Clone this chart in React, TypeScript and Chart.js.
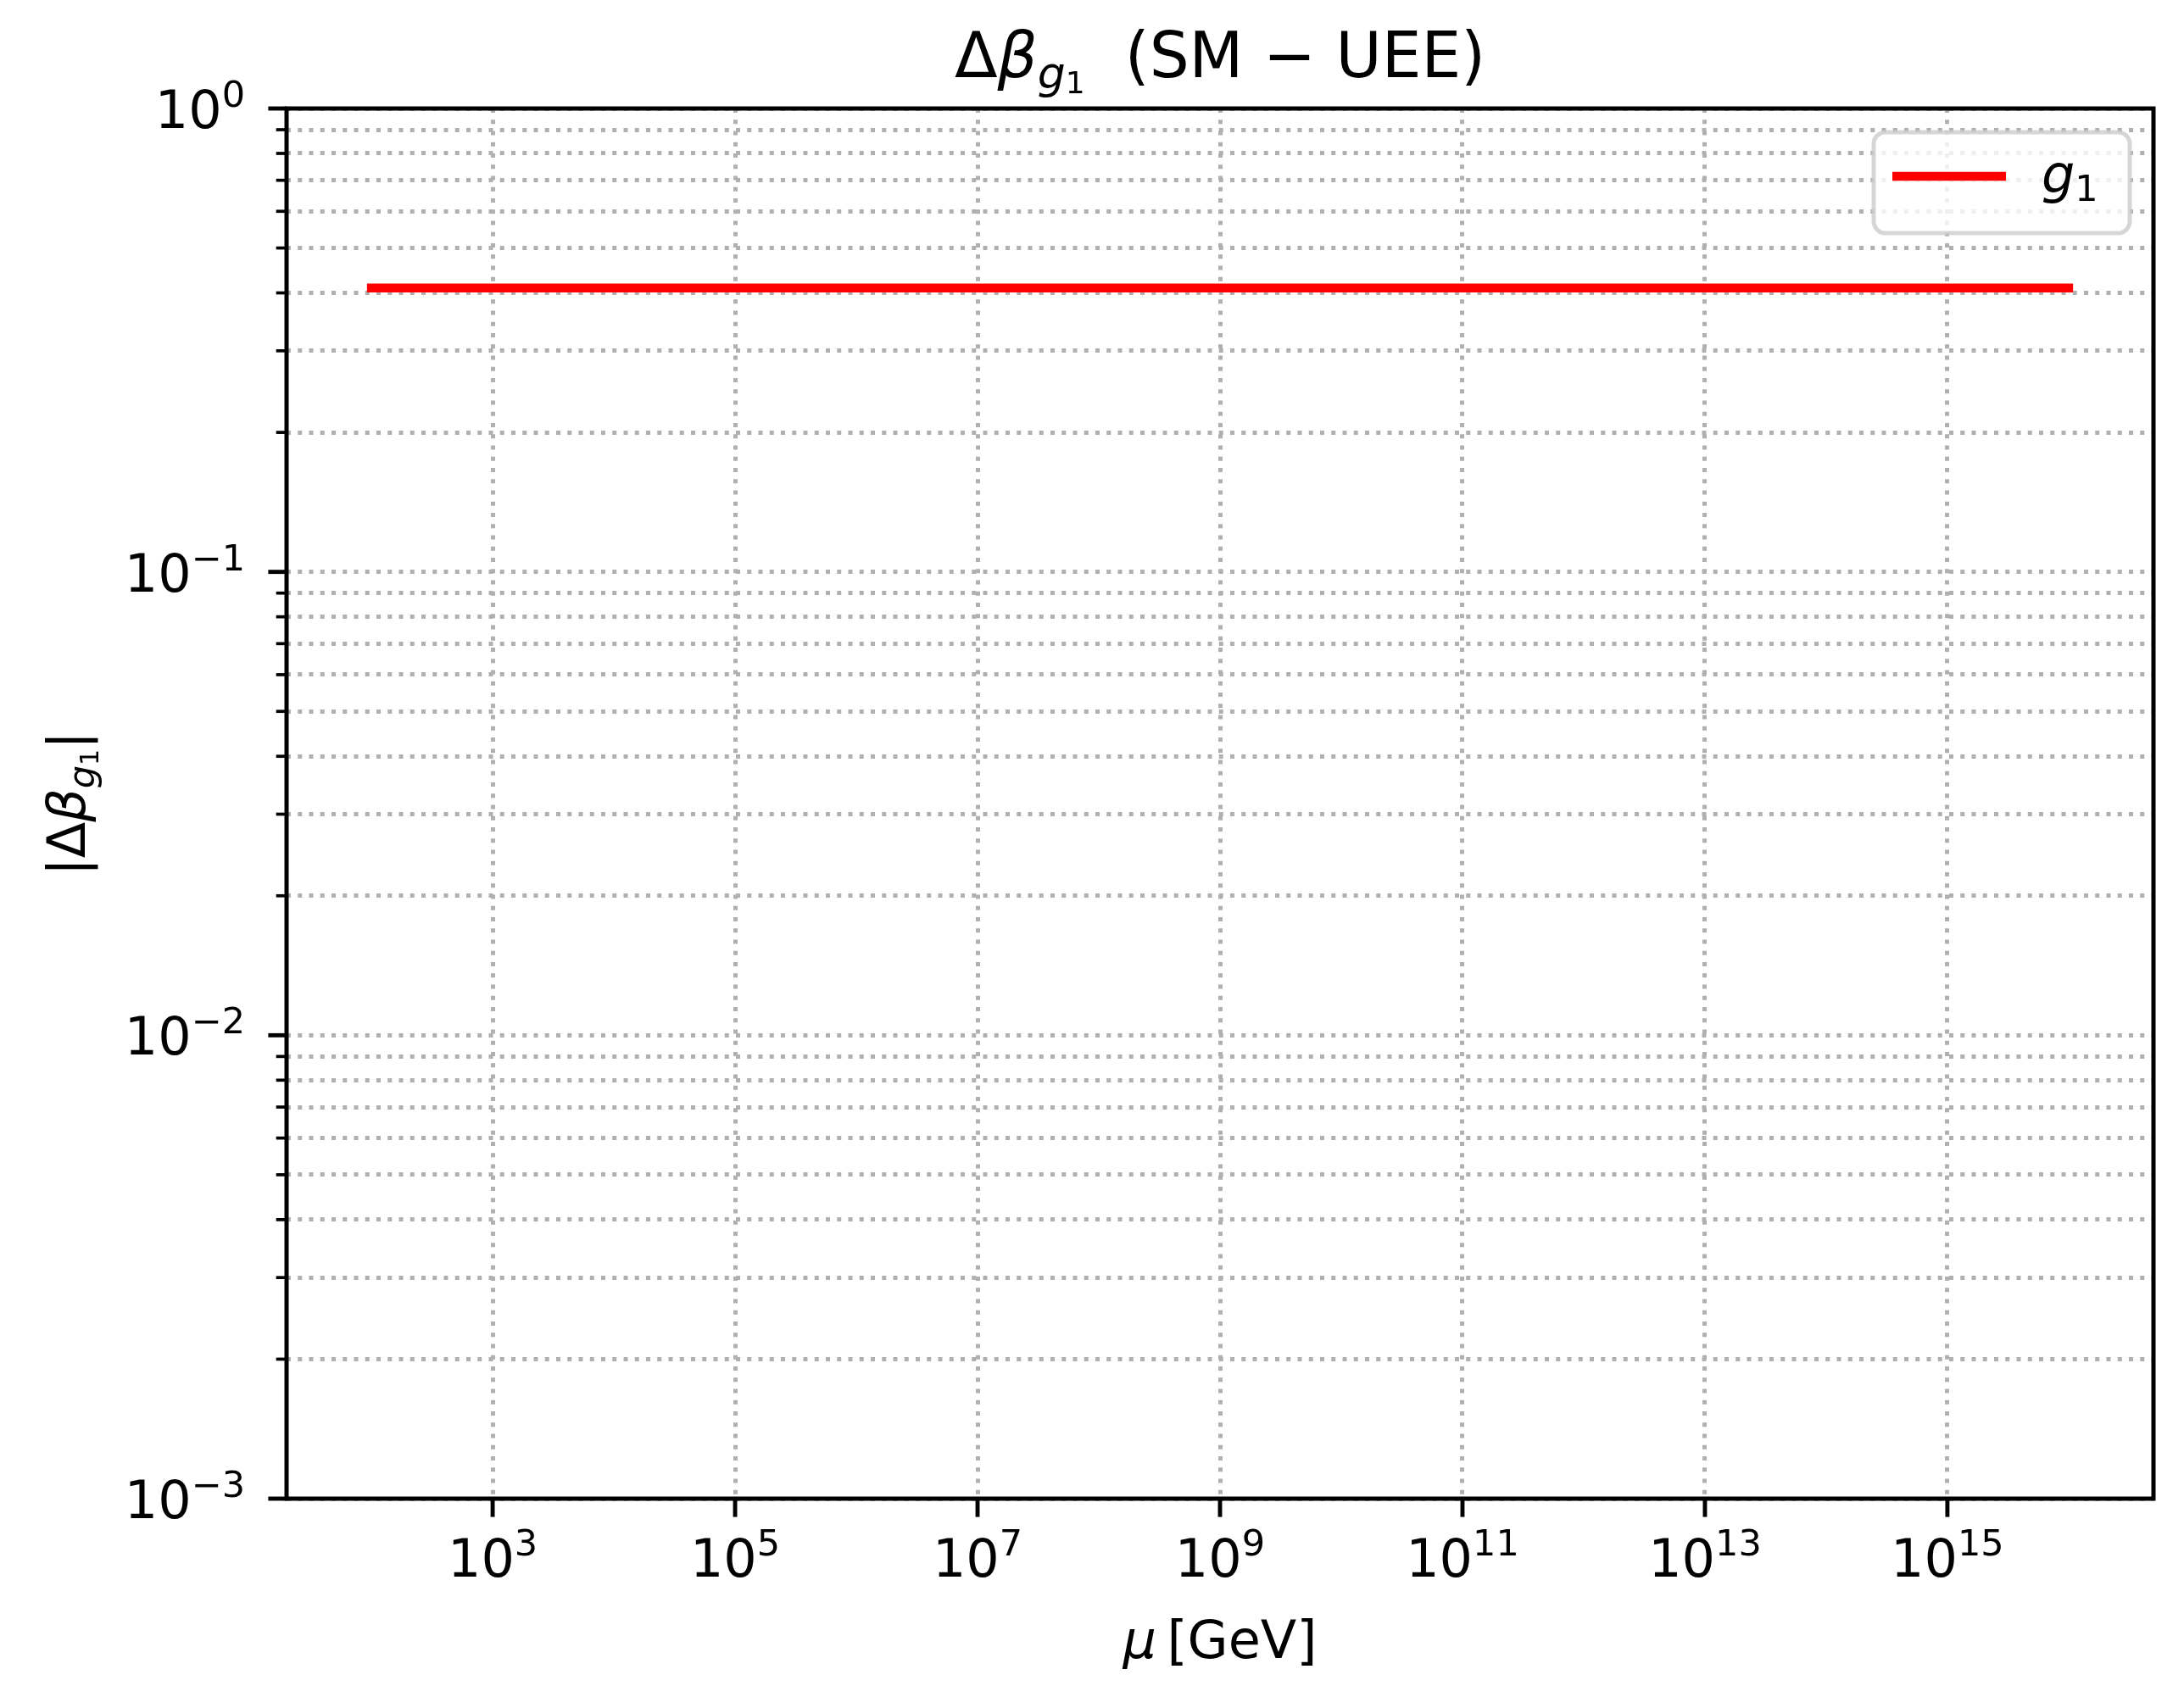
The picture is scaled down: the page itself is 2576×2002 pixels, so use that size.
import { useEffect, useRef } from 'react';
import { Chart, registerables } from 'chart.js';

Chart.register(...registerables);

// data: |Δβ_g1| is flat over the whole μ range
const muGeV = [1e2, 1e4, 1e6, 1e8, 1e10, 1e12, 1e14, 1e16];
const deltaBetaG1 = [0.41, 0.41, 0.41, 0.41, 0.41, 0.41, 0.41, 0.41];
const seriesLabel = 'g₁';

// axis ticks
const xTickValues = [1e3, 1e5, 1e7, 1e9, 1e11, 1e13, 1e15];
const xTickExponents = ['3', '5', '7', '9', '11', '13', '15'];
const yMajorValues = [1e-3, 1e-2, 1e-1, 1];
const yTickExponents = ['−3', '−2', '−1', '0'];
const yMinorMantissas = [2, 3, 4, 5, 6, 7, 8, 9];

const xMin = Math.pow(10, 1.3);
const xMax = Math.pow(10, 16.7);

const FONT = "'DejaVu Sans'";
const GRID = '#b0b0b0';

type Run = { text: string; size: number; italic?: boolean; dy?: number };

function fontOf(r: Run) {
  return `${r.italic ? 'italic ' : ''}${r.size}px ${FONT}`;
}

function runsWidth(ctx: CanvasRenderingContext2D, runs: Run[]) {
  let w = 0;
  for (const r of runs) {
    ctx.font = fontOf(r);
    w += ctx.measureText(r.text).width;
  }
  return w;
}

function drawRuns(ctx: CanvasRenderingContext2D, runs: Run[], x: number, y: number) {
  let cx = x;
  for (const r of runs) {
    ctx.font = fontOf(r);
    ctx.fillText(r.text, cx, y + (r.dy || 0));
    cx += ctx.measureText(r.text).width;
  }
}

const yMinorValues = yMajorValues
  .slice(0, -1)
  .flatMap((d) => yMinorMantissas.map((m) => m * d));

const decorPlugin = {
  id: 'decor',
  afterDraw(chart: any) {
    const { ctx, chartArea: a, scales } = chart;
    const xs = scales.x;
    const ys = scales.y;
    ctx.save();
    ctx.fillStyle = '#000';
    ctx.textAlign = 'left';
    ctx.textBaseline = 'alphabetic';

    // frame (all four spines)
    ctx.strokeStyle = '#000';
    ctx.lineWidth = 5;
    ctx.setLineDash([]);
    ctx.strokeRect(a.left, a.top, a.right - a.left, a.bottom - a.top);

    // x ticks + labels
    ctx.lineWidth = 4.9;
    xTickValues.forEach((v, i) => {
      const px = xs.getPixelForValue(v);
      ctx.beginPath();
      ctx.moveTo(px, a.bottom);
      ctx.lineTo(px, a.bottom + 21.6);
      ctx.stroke();
      const runs: Run[] = [
        { text: '10', size: 62 },
        { text: xTickExponents[i], size: 43, dy: -25 },
      ];
      const w = runsWidth(ctx, runs);
      drawRuns(ctx, runs, px - w / 2, a.bottom + 92);
    });

    // y ticks + labels
    yMajorValues.forEach((v, i) => {
      const py = ys.getPixelForValue(v);
      ctx.lineWidth = 4.9;
      ctx.beginPath();
      ctx.moveTo(a.left, py);
      ctx.lineTo(a.left - 21.6, py);
      ctx.stroke();
      const runs: Run[] = [
        { text: '10', size: 62 },
        { text: yTickExponents[i], size: 43, dy: -25 },
      ];
      const w = runsWidth(ctx, runs);
      drawRuns(ctx, runs, a.left - 49 - w, py + 23);
    });
    ctx.lineWidth = 3.7;
    yMinorValues.forEach((v) => {
      const py = ys.getPixelForValue(v);
      ctx.beginPath();
      ctx.moveTo(a.left, py);
      ctx.lineTo(a.left - 12.3, py);
      ctx.stroke();
    });

    const cx = (a.left + a.right) / 2;
    const cy = (a.top + a.bottom) / 2;

    // title
    const titleRuns: Run[] = [
      { text: 'Δ', size: 74 },
      { text: 'β', size: 74, italic: true },
      { text: 'g', size: 52, italic: true, dy: 13 },
      { text: '1', size: 36, dy: 19 },
      { text: '  (SM − UEE)', size: 74 },
    ];
    const tw = runsWidth(ctx, titleRuns);
    drawRuns(ctx, titleRuns, cx - tw / 2, a.top - 37);

    // x label
    const xRuns: Run[] = [
      { text: 'μ', size: 62, italic: true },
      { text: '\u2009[GeV]', size: 62 },
    ];
    const xw = runsWidth(ctx, xRuns);
    drawRuns(ctx, xRuns, cx - xw / 2, 1956);

    // y label
    const yRuns: Run[] = [
      { text: '|Δ', size: 62 },
      { text: 'β', size: 62, italic: true },
      { text: 'g', size: 43, italic: true, dy: 11 },
      { text: '1', size: 30, dy: 16 },
      { text: '|', size: 62 },
    ];
    const yw = runsWidth(ctx, yRuns);
    ctx.save();
    ctx.translate(100, cy);
    ctx.rotate(-Math.PI / 2);
    drawRuns(ctx, yRuns, -yw / 2, 0);
    ctx.restore();

    // legend
    const ds = chart.data.datasets[0];
    const lx = a.right - 330;
    const ly = a.top + 28;
    const lw = 302;
    const lh = 119;
    ctx.beginPath();
    ctx.roundRect(lx, ly, lw, lh, 14);
    ctx.fillStyle = 'rgba(255,255,255,0.8)';
    ctx.fill();
    ctx.strokeStyle = 'rgba(204,204,204,0.8)';
    ctx.lineWidth = 5;
    ctx.stroke();
    ctx.strokeStyle = ds.borderColor;
    ctx.lineWidth = ds.borderWidth;
    ctx.lineCap = 'butt';
    ctx.beginPath();
    ctx.moveTo(lx + 22, ly + 52);
    ctx.lineTo(lx + 156, ly + 52);
    ctx.stroke();
    ctx.fillStyle = '#000';
    drawRuns(
      ctx,
      [
        { text: 'g', size: 62, italic: true },
        { text: '1', size: 43, dy: 10 },
      ],
      lx + 198,
      ly + 71
    );

    ctx.restore();
  },
};

export default function App() {
  const canvasRef = useRef<HTMLCanvasElement>(null);
  const chartRef = useRef<Chart | null>(null);

  useEffect(() => {
    document.body.style.margin = '0';
    if (!canvasRef.current) return;
    if (chartRef.current) chartRef.current.destroy();

    const points = muGeV.map((mu, i) => ({ x: mu, y: deltaBetaG1[i] }));

    chartRef.current = new Chart(canvasRef.current, {
      type: 'line',
      data: {
        datasets: [
          {
            label: seriesLabel,
            data: points,
            borderColor: '#ff0000',
            borderWidth: 10.5,
            borderCapStyle: 'square',
            pointRadius: 0,
            tension: 0,
            fill: false,
          },
        ],
      },
      options: {
        responsive: true,
        maintainAspectRatio: false,
        animation: false,
        layout: { padding: { top: 128, right: 36, left: 0, bottom: 0 } },
        plugins: {
          legend: { display: false },
          title: { display: false },
          tooltip: { enabled: false },
        },
        scales: {
          x: {
            type: 'logarithmic',
            bounds: 'data',
            min: xMin,
            max: xMax,
            afterBuildTicks: (s: any) => {
              s.ticks = xTickValues.map((v) => ({ value: v }));
            },
            afterFit: (s: any) => {
              s.height = 234;
            },
            ticks: { display: false, autoSkip: false },
            grid: { color: GRID, lineWidth: 5, drawTicks: false },
            border: { display: false, dash: [5, 8.25] },
          },
          y: {
            type: 'logarithmic',
            bounds: 'data',
            min: 1e-3,
            max: 1,
            afterBuildTicks: (s: any) => {
              s.ticks = [...yMajorValues, ...yMinorValues]
                .sort((p, q) => p - q)
                .map((v) => ({ value: v }));
            },
            afterFit: (s: any) => {
              s.width = 338;
            },
            ticks: { display: false, autoSkip: false },
            grid: { color: GRID, lineWidth: 5, drawTicks: false },
            border: { display: false, dash: [5, 8.25] },
          },
        },
      } as any,
      plugins: [decorPlugin],
    });

    return () => {
      if (chartRef.current) {
        chartRef.current.destroy();
        chartRef.current = null;
      }
    };
  }, []);

  return (
    <div style={{ width: '2576px', height: '2002px', position: 'relative', overflow: 'hidden', background: '#fff' }}>
      <canvas ref={canvasRef} />
    </div>
  );
}
